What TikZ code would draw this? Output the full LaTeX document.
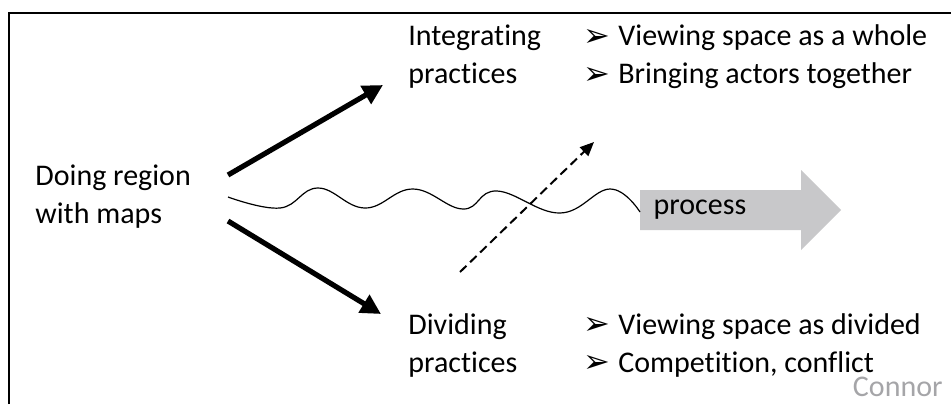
\documentclass[tikz,border=0pt]{standalone}
\usepackage{fontspec}
\setmainfont{Carlito}[Ligatures=NoCommon]
\newfontfamily\symfont{DejaVu Sans}
\usetikzlibrary{arrows.meta,positioning,calc}
\definecolor{procgray}{RGB}{200,200,202}
\definecolor{creditgray}{RGB}{165,165,168}
\newcommand{\bul}{\makebox[17.5pt][l]{\raisebox{-0.3pt}{\symfont\fontsize{16}{10}\selectfont ➢}}}

\begin{document}
\begin{tikzpicture}[x=0.5pt, y=-0.5pt, font=\fontsize{15}{19}\selectfont,
      every node/.style={inner sep=0pt, align=left},
      bigarrow/.style={line width=2.6pt, -{Triangle[length=10pt,width=10pt]}},
      dasharrow/.style={line width=1pt, dash pattern=on 4.5pt off 2.5pt, -{Triangle[length=7pt,width=6pt]}},
      wavy/.style={line width=0.6pt}]
    \useasboundingbox (0,0) rectangle (951,404);
    \draw[line width=1pt] (9,404) -- (9,13) -- (951,13);

    \node[anchor=west] (doing) at (35,197) {Doing region\\with maps};
    \node[anchor=west] (integ) at (408,57) {Integrating\\practices};
    \node[anchor=west] (divid) at (408,345) {Dividing\\practices};
    \node[anchor=west] (integlist) at (583,57) {\bul Viewing space as a whole\\\bul Bringing actors together};
    \node[anchor=west] (dividlist) at (583,345) {\bul Viewing space as divided\\\bul Competition, conflict};

    % process arrow
    \fill[procgray] (640,190) -- (801,190) -- (801,170) -- (841,210) -- (801,250) -- (801,230) -- (640,230) -- cycle;
    \node (proc) at (700,210) {process};
    \coordinate (procin) at (640,212);

    \node[anchor=base east, text=creditgray] (credit) at (943,396) {Connor};

    \coordinate (up0) at (228,175);
    \coordinate (up1) at (383,85);
    \coordinate (dn0) at (228,221);
    \coordinate (dn1) at (381,314);
    \coordinate (w0) at (228,197);
    \coordinate (d0) at (460,272);
    \coordinate (d1) at (594,142);

    \draw[bigarrow] (up0) -- (up1);
    \draw[bigarrow] (dn0) -- (dn1);
    \draw[wavy] plot[smooth, tension=0.7] coordinates {(w0) (280,208) (318,188) (365,208) (413,189) (463,209) (497,191) (560,213) (610,189) (procin)};
    \draw[dasharrow] (d0) -- (d1);
  \end{tikzpicture}
\end{document}
